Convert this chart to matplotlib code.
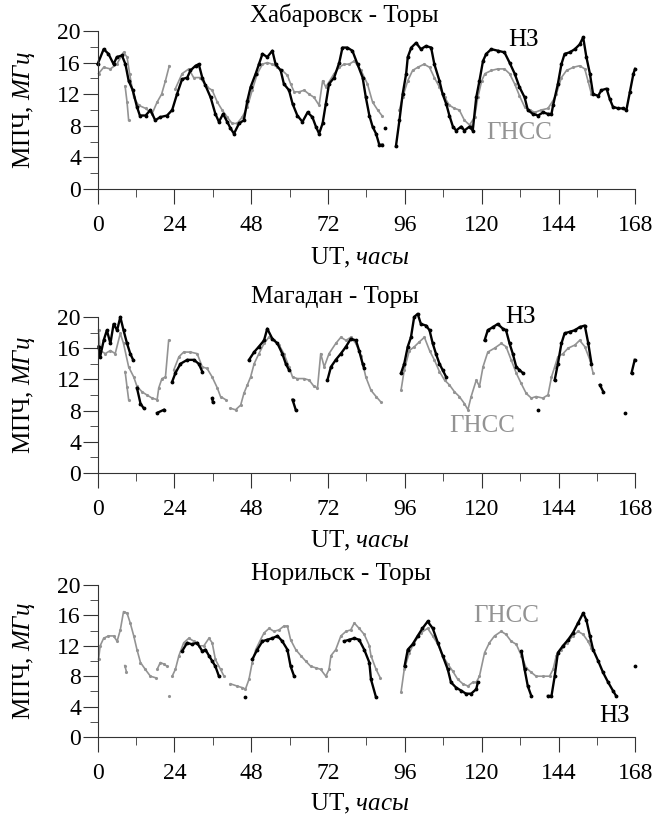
import numpy as np
import matplotlib
matplotlib.use('Agg')
import matplotlib.pyplot as plt

plt.rcParams['font.family'] = ['Liberation Serif', 'DejaVu Serif']
plt.rcParams['mathtext.fontset'] = 'custom'
plt.rcParams['mathtext.rm'] = 'Liberation Serif'
plt.rcParams['mathtext.it'] = 'Liberation Serif:italic'

nan = np.nan

# Хабаровск - Торы
khab_nz_t = [0, 1.9, 3.4, 5, 6, 7.6, 8.7, 9.7, 11, 12.3, 13.2, 15, 16.5, 18, 19.6, 21.7, 23.3, 24.8, 26.4, 28, 29,
             30.6, 31.6, 32.7, 33.7, 35.3, 36.8, 37.9, 39.2, 40.5, 41.5, 42.6, 44.2, 45.7, 46.8, 47.8, 49.4, 50.4,
             51.5, 53, 54.6, 55.6, 57.2, 58.2, 59.8, 60.9, 62.4, 64, 65.6, 67.1, 68.2, 69.2, 70.3, 71.3, 72.3, 73.9,
             75.5, 76.5, 78, 79.6, 81.2, 82.8, 83.8, 84.9, 85.9, 87, 88, 89, nan, 89.8, nan,
             93.2, 94.3, 95.3, 96.4, 96.9, 98, 99.5, 101, 102.6, 104.2, 105.2, 106.8, 107.8, 108.9, 109.9, 111, 112,
             113.6, 114.6, 116.2, 117.2, 118.3, 119.3, 120.4, 121.4, 123, 125, 127.1, 128.7, 130.3, 131.8, 133.4,
             134.4, 136, 137.6, 139.2, 140.7, 141.8, 142.3, 143.8, 144.9, 145.9, 147.5, 149.1, 150.6, 151.7, 152.7,
             153.8, 154.8, 156.4, 157.4, 159, 160, 161, 162.6, 164.2, 165.2, 166.3, 167.4, 167.9]
khab_nz_v = [15.8, 17.7, 17.1, 15.8, 16.7, 16.9, 15.8, 13.7, 12.5, 10.4, 9.3, 9.3, 10, 8.7, 9.1, 9.3, 10, 12, 13.9, 14.1, 15,
             15.6, 15.8, 14.1, 13.1, 11.6, 9.5, 8.5, 9.5, 8.5, 7.7, 7.0, 8.3, 8.7, 11.2, 12.9, 14.6, 15.8,
             17.1, 16.7, 17.5, 15.8, 15, 13.3, 12.5, 10.8, 9.3, 8.5, 9.7, 9.1, 7.9, 7.0, 8.3, 10.8, 13.3, 14.1,
             16, 17.9, 17.9, 17.5, 15.8, 14.1, 11.6, 9.3, 7.9, 7.0, 5.6, 5.6, nan, 7.7, nan,
             5.4, 8.7, 12, 14.6, 16.7, 17.9, 18.5, 17.7, 18.1, 17.9, 15.8, 13.7, 12, 10.8, 9.3, 7.9, 7.4,
             7.9, 7.4, 7.9, 7.4, 11.6, 13.7, 16.2, 17.1, 17.7, 17.5, 17.3, 16, 14.6, 12.9, 11.6,
             10, 9.5, 9.3, 9.7, 9.5, 9.5, 10.6, 13.3, 15.8, 17.1, 17.3, 17.7, 18.3, 19.2, 16.7,
             14.6, 12, 11.8, 12.5, 12.7, 11.4, 10.4, 10.2, 10.2, 10, 12.3, 14.6, 15.2]
khab_gnss_t = [0.3, 1.9, 4, 6, 8.1, 9.2, 10, 11.3, 12.8, 15, 17, 18.6, 20, 21.2, 22.4, nan,
               24.3, 26.4, 28.5, 30, 32, 34.2, 35.8, 37.4, 38.9, 40.5, 42, 43.6, 45.2, 46.8, 48.3, 49.9, 51.5, 53,
               54.6, 56.2, 57.7, 59.3, 60.3, 61.4, 63, 64.5, 66.1, 67.6, 69.2, 70.3, 71.3, 73.9, 75.5, 77, 78.6,
               80.2, 82.3, 84.3, 85.9, 87.5, 88.8, nan,
               94.3, 95.3, 96.9, 98.4, 100, 102, 103.7, 105.2, 106.8, 108.4, 109.9, 111.5, 113, 114.6, 116.2, 117.8,
               118.8, 120, 121, 123, 125, 127.1, 128.7, 130.3, 131.8, 133.4, 135, 136.6, 138.6, 140.7, 142.3, 143.3,
               144.9, 146.5, 148.6, 150.6, 152.2, 153.2, 154.3, nan, 8.6, 9.2, 9.7]
khab_gnss_v = [14.6, 15.4, 15.2, 15.8, 17.3, 16.7, 14.6, 11.6, 10.6, 10.2, 9.5, 11, 12, 13.7, 15.6, nan,
               12.7, 14.6, 15.2, 14.1, 14.1, 12.9, 12.5, 11, 10, 9.1, 8.3, 8.3, 9.1, 10.4, 12.5, 14.6, 15.8, 16,
               15.8, 15.4, 15, 14.4, 13.3, 12.3, 12.3, 12.5, 12, 11.6, 10.6, 13.7, 12.9, 14.6, 15.4, 15.8, 15.8,
               16.2, 15, 13.3, 11, 10, 9.3, nan,
               10, 11.6, 13.7, 15, 15.4, 15.8, 15.4, 14.1, 12.9, 11.6, 10.6, 10.2, 10, 8.7, 8.1, 9.1,
               11.6, 13.7, 14.6, 15, 15.2, 15.2, 14.6, 13.3, 11.8, 10.4, 10, 9.7, 10, 10.2, 11.2, 12,
               14.1, 15, 15.4, 15.6, 15.2, 13.7, 12, nan, 13, 11, 8.7]

# Магадан - Торы
mag_nz_t = [0.3, 0.8, 1.9, 2.9, 4, 5, 6.1, 7.1, 8.1, 9.2, 10.2, 11.1, nan, 12.3, 13.4, 14.4, nan, 18.6, 20.7, nan,
            23.3, 24.3, 25.9, 28, 30.1, 31.6, 32.7, nan, 35.8, 36, nan,
            47.3, 48.9, 50.4, 52, 53, 54.6, 56.2, 57.7, 58.8, 59.8, nan, 60.9, 61.9, nan,
            71.8, 72.9, 74.4, 76, 77.6, 79.1, 80.7, 81.7, 82.8, 83.3, nan,
            94.8, 95.8, 96.9, 97.9, 98.9, 100, 101, 102.6, 103.7, 104.7, 105.7, 106.8, 107.8, 108.9, nan,
            120.9, 121.9, 123.5, 125, 126.6, 127.6, 128.7, 129.7, 130.8, 131.8, 132.9, nan, 137.6, nan,
            142.8, 143.8, 144.9, 145.9, 147.5, 149.1, 150.6, 152.2, 153.3, 154.3, nan, 156.9, 158, nan,
            164.7, nan, 166.8, 167.8]
mag_nz_v = [16.2, 14.9, 17, 18.3, 16.6, 19.1, 18.3, 20, 18.3, 16.6, 15.3, 14.5, nan, 10.9, 8.9, 8.3, nan, 7.7, 8.1, nan,
            11.7, 12.8, 14, 14.5, 14.5, 14, 13, nan, 9.6, 9.1, nan,
            14.5, 15.5, 16.2, 17, 18.5, 17.2, 16.6, 15.3, 14, 13.2, nan, 9.4, 8.1, nan,
            11.9, 13.6, 14.5, 15.3, 16.2, 17.2, 17, 15.7, 14, 13.4, nan,
            12.8, 14, 16.2, 17.4, 20, 20.4, 19.1, 18.9, 18.3, 16.6, 15.3, 14, 13.2, 12.3, nan,
            17, 18.3, 18.7, 19.1, 18.5, 18.3, 16.6, 15.3, 13.6, 13.2, 12.8, nan, 8.1, nan,
            11.9, 14, 16.6, 17.9, 18.1, 18.3, 18.7, 18.9, 16.6, 14, nan, 11.3, 10.4, nan,
            7.7, nan, 12.8, 14.5]
mag_gnss_t = [0.3, 0.8, 2.4, 4, 5.5, 7.1, 8.1, 9.7, 11.3, 12.3, 13.9, 15.4, 17, 18.6, 19.1, 20.1, 21.2, 22.2, nan,
              23.8, 25.4, 26.9, 29, 31.1, 32.7, 34.2, 35.8, 37.4, 38.4, 40, nan,
              41.5, 43.1, 44.7, 45.7, 46.8, 47.8, 48.9, 50.4, 52, 53.5, 55.1, 56.7, 58.2, 59.8, 60.9, 62.4, 64.5,
              66.1, 67.6, 68.7, 69.7, 70.8, 72.3, 74.4, 76, 77.6, 79.1, 80.7, 82.3, 83.8, 85.4, 87, 88.5, nan,
              94.8, 95.8, 97.4, 99, 100.5, 102.1, 103.7, 105.2, 106.8, 108.4, 109.9, 111.5, 113, 114.6, 115.7,
              116.7, 118.3, 119.3, 120.4, 121.9, 124, 126.1, 127.6, 129.2, 130.8, 132.3, 133.9, 135.5, 137, 139.1,
              140.7, 141.8, 142.8, 143.8, 145.4, 147, 149.1, 150.6, 152.2, 153.8, 154.8, nan, 8.6, 9.2, 9.7]
mag_gnss_v = [18.3, 15.7, 15.3, 15.7, 15.3, 17.9, 16.6, 13.6, 12.3, 11.1, 10.4, 10, 9.6, 9.4, 10.9, 12.1, 12.3, 17, nan,
              13.2, 14.9, 15.5, 15.5, 15.3, 13.6, 13.4, 12.3, 10.9, 9.8, 9.4, nan,
              8.3, 8.1, 8.7, 10.2, 11.3, 12.3, 14, 15.3, 16.6, 17.4, 17, 16.4, 15.3, 13.6, 12.3, 12.1, 12.1,
              11.9, 11.1, 10.9, 15.3, 13.6, 15.3, 16.6, 17.4, 17, 17.4, 16.6, 15, 12.3, 10.6, 9.8, 9.1, nan,
              10.6, 13.2, 15.7, 16.2, 16.8, 17.4, 15.7, 14.5, 13, 11.9, 11.3, 10.4, 9.8, 8.9, 8.1,
              9.8, 11.9, 11.1, 13.6, 15.5, 16, 16.6, 16.2, 14.5, 12.8, 11.5, 10.2, 9.6, 9.8, 9.6,
              10, 12.3, 13.6, 14.9, 15.3, 16, 16.4, 17, 16.2, 14.5, 12.8, nan, 13, 11, 9.4]

# Норильск - Торы
nor_nz_t = [26.4, 28, 29.4, 31.1, 32.7, 33.7, 34.8, 35.8, 36.8, 37.9, nan, 46.2, nan,
            48.3, 49.9, 51.5, 53, 54.6, 56.2, 57.7, 59.3, 60.3, 61.4, nan,
            77, 78.6, 80.2, 81.7, 83.3, 84.9, 85.4, 87, nan,
            95.9, 96.9, 98.4, 100, 101.5, 103.1, 104.7, 106.3, 107.8, 109.4, 110.4, 112, 113.6, 115.1, 116.7,
            118.3, 118.8, nan, 132.4, 133.4, 134.4, 135.5, nan,
            140.7, 141.8, 142.8, 143.8, 145.4, 147, 148.5, 150.1, 151.7, 152.7, 153.8, 154.8, 156.4, 157.9,
            159.5, 161, 162, nan, 167.8]
nor_nz_v = [11.3, 12.4, 12.2, 12.4, 11.3, 11.5, 10.7, 10, 9.3, 8, nan, 5.2, nan,
            10.2, 11.5, 12.6, 12.8, 13, 13.3, 12.6, 11.5, 9.3, 8, nan,
            12.6, 12.8, 13, 12.8, 11.5, 9.8, 7.6, 5.2, nan,
            9.3, 11.5, 12.2, 13.3, 14.3, 15.2, 14.3, 12.4, 10.7, 8.9, 7.2, 6.5, 6.1, 5.7, 5.7,
            6.3, 7.2, nan, 11.3, 8.9, 6.7, 5.4, nan,
            5.4, 5.4, 8, 11.1, 12, 12.8, 13.7, 15, 16.3, 15.4, 13.3, 11.5, 10, 8.5,
            7.2, 6.1, 5.4, nan, 9.3]
nor_gnss_t = [0.3, 0.8, 1.9, 3.4, 5, 6.1, 7.1, 8.1, 9.2, 10.2, 11.3, 12.3, 13.4, 14.9, 16.5, 18.1, nan,
              18.6, 19.6, 20.7, 21.7, nan, 22.2, nan,
              23.3, 24.3, 25.4, 26.9, 28.5, 30.1, 31.6, 33.2, 34.8, 35.8, 36.8, 38.4, 39.5, nan,
              41.5, 43.6, 45.2, 46.2, 47.3, 48.3, 49.4, 50.9, 52, 53.6, 55.1, 56.7, 58.2, 59.3, 60.3, 61.9, 63.5,
              65, 66.6, 68.2, 69.7, 71.3, 72.3, 72.9, 74.4, 76, 77.6, 79.1, 80.2, 81.7, 83.3, 84.9, 85.4, 87, 88.3, nan,
              94.8, 95.8, 97.4, 98.9, 101, 103.1, 104.7, 106.3, 107.8, 109.4, 110.9, 112.5, 114.1, 115.7, 117.2,
              118.3, 119.3, 120.9, 122.4, 124, 126.1, 127.6, 129.2, 130.8, 132.4, 133.9, 135.5, 137, 139.1, 141.2,
              142.3, 143.3, 144.9, 146.5, 148.5, 150.1, 151.7, 153.2, 154.3, nan, 8.5, 9.0]
nor_gnss_v = [10.2, 12, 13, 13.3, 13.3, 12.6, 14.1, 16.5, 16.3, 15, 13.3, 11.5, 9.8, 8.9, 8, 7.8, nan,
              8.9, 9.8, 9.6, 9.3, nan, 5.4, nan,
              8, 8.9, 10.7, 12.4, 13, 12.6, 12, 12, 13, 12.4, 10.2, 8.9, 8, nan,
              7, 6.7, 6.5, 6.3, 7.6, 9.8, 11.5, 12.8, 13.7, 14.3, 13.9, 14.1, 14.6, 14.6, 12.8, 11.5, 10.7,
              10, 9.3, 9.1, 8.9, 8, 8.9, 10.7, 11.5, 13.3, 13.9, 14.1, 15, 14.3, 13.5, 12, 10.7, 8.9, 7.8, nan,
              5.9, 8.9, 11.1, 12.4, 13.7, 14.3, 13.3, 12.2, 10.7, 9.6, 8.7, 7.6, 7, 6.7, 7.2,
              7.2, 8, 11.1, 12.4, 13.3, 13.9, 13.5, 12.6, 12.2, 10.7, 9.1, 8.5, 8, 8, 8,
              8.9, 10.7, 11.5, 12.4, 13.3, 13.9, 13.5, 12.6, 11.7, nan, 9.4, 8.6]

panels = [
    ('Хабаровск - Торы', khab_nz_t, khab_nz_v, khab_gnss_t, khab_gnss_v, (77, 22.0), (133, 18.9), (131.7, 7.1)),
    ('Магадан - Торы', mag_nz_t, mag_nz_v, mag_gnss_t, mag_gnss_v, (74, 22.6), (132, 20.0), (120, 6.0)),
    ('Норильск - Торы', nor_nz_t, nor_nz_v, nor_gnss_t, nor_gnss_v, (76, 21.5), (161.5, 2.7), (127.5, 15.9)),
]

fig = plt.figure(figsize=(6.55, 8.22), dpi=100)
boxes = [[0.149, 0.7701, 0.821, 0.1922],
         [0.149, 0.4246, 0.821, 0.1898],
         [0.149, 0.1034, 0.821, 0.1849]]
gray = '#939393'
axc = '#333333'

for box, (title, nt, nv, gt, gv, tpos, npos, gpos) in zip(boxes, panels):
    ax = fig.add_axes(box)
    ax.plot(gt, gv, color=gray, lw=1.2, marker='.', ms=2.5, clip_on=False)
    ax.plot(nt, nv, color='black', lw=1.7, marker='.', ms=3.5, clip_on=False)
    ax.set_xlim(0, 168)
    ax.set_ylim(0, 20)
    for s in ['top', 'right']:
        ax.spines[s].set_visible(False)
    for s in ['left', 'bottom']:
        ax.spines[s].set_color(axc)
    ax.set_xticks(range(0, 169, 24))
    ax.set_xticks(range(12, 168, 24), minor=True)
    ax.set_yticks(range(0, 21, 4))
    ax.set_yticks(range(2, 20, 4), minor=True)
    ax.tick_params(axis='x', which='major', length=11, pad=8, labelsize=17, color=axc)
    ax.tick_params(axis='x', which='minor', length=6, color=axc)
    ax.tick_params(axis='y', which='major', length=11, pad=1, labelsize=17, color=axc)
    ax.tick_params(axis='y', which='minor', length=6, color=axc)
    ax.set_ylabel('МПЧ, $\\mathit{МГц}$', fontsize=18)
    ax.yaxis.set_label_coords(-0.112, 0.5)
    ax.set_xlabel('UT, $\\mathit{часы}$', fontsize=18)
    ax.xaxis.set_label_coords(0.488, -0.36)
    ax.text(tpos[0], tpos[1], title, fontsize=18, ha='center', va='center')
    ax.text(npos[0], npos[1], 'НЗ', fontsize=18, ha='center', va='center', color='black')
    ax.text(gpos[0], gpos[1], 'ГНСС', fontsize=18, ha='center', va='center', color=gray)

fig.savefig('out.png', dpi=100)
